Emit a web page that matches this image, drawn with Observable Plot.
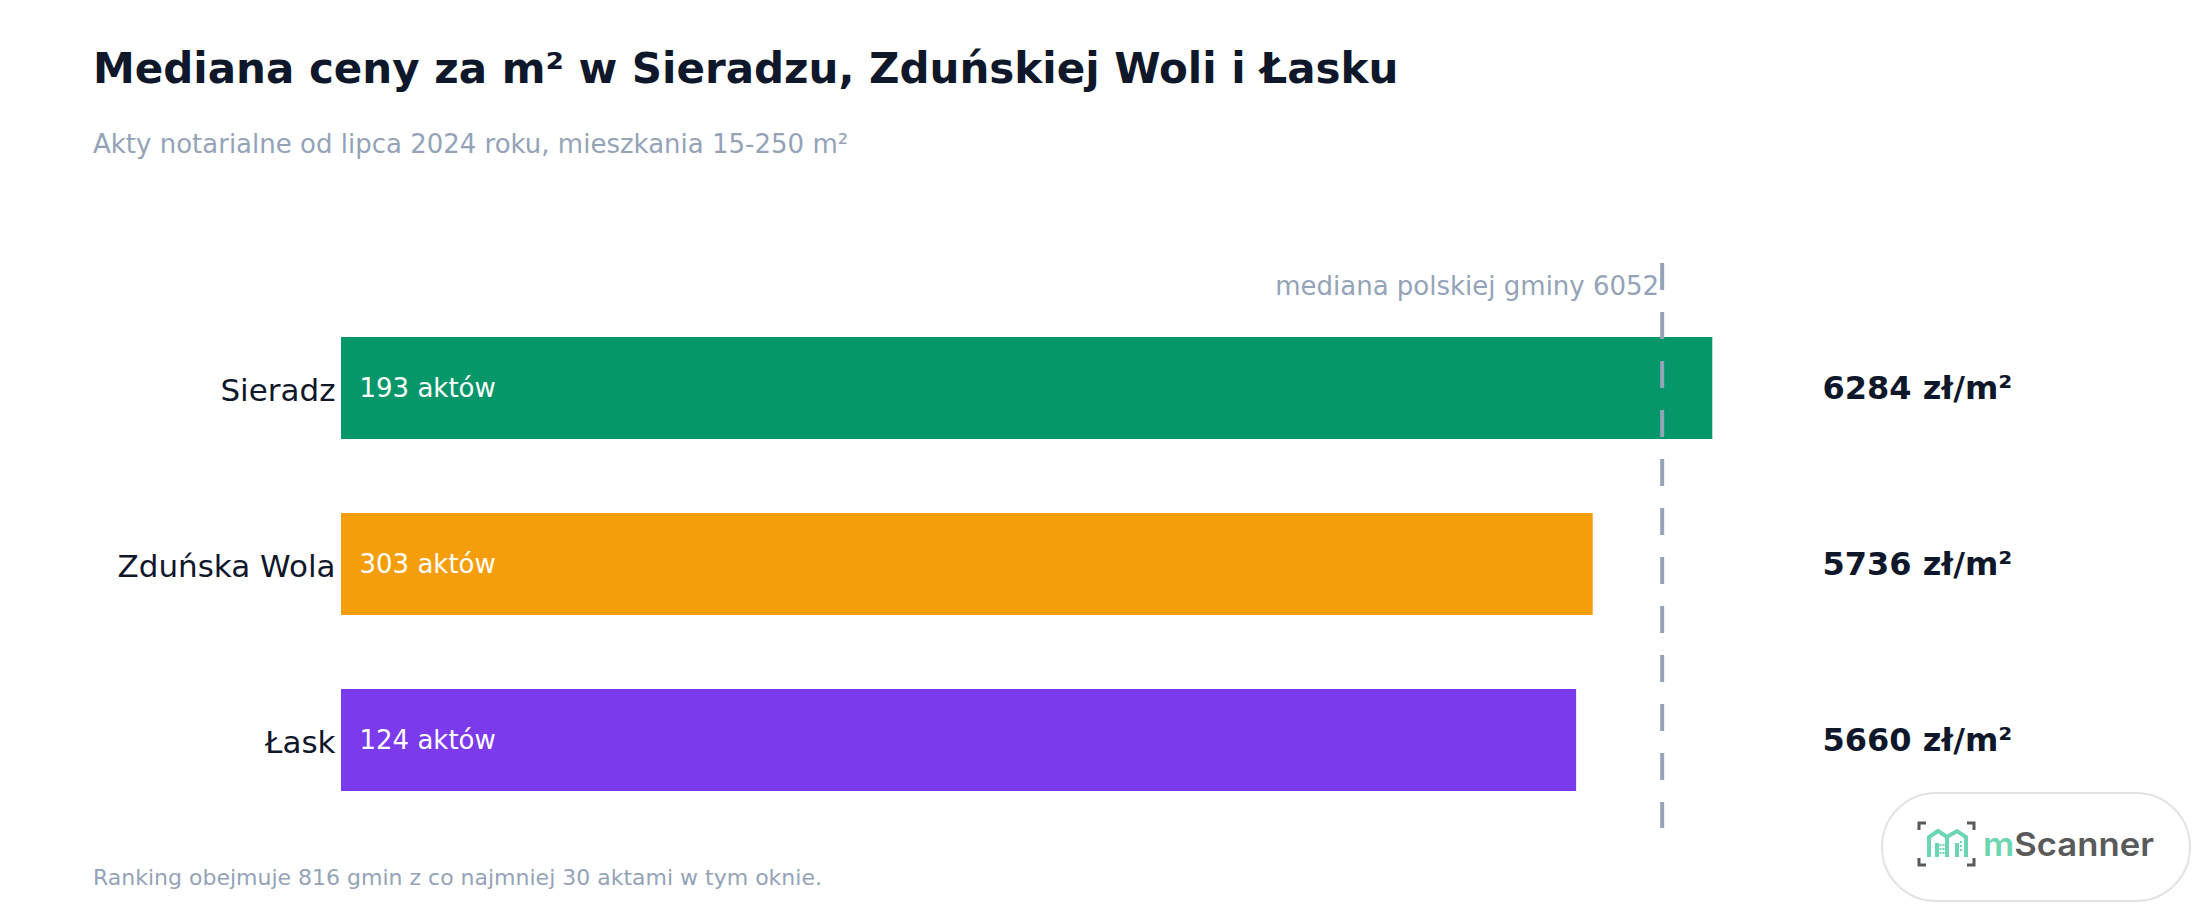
<!DOCTYPE html>
<html>
<head>
<meta charset="utf-8">
<script src="https://cdn.jsdelivr.net/npm/d3@7"></script>
<script src="https://cdn.jsdelivr.net/npm/@observablehq/plot@0.6"></script>
<style>
  html, body { margin: 0; padding: 0; background: #ffffff; }
  body { width: 2200px; height: 920px; position: relative; overflow: hidden; font-family: "DejaVu Sans", sans-serif; }
  .abs { position: absolute; line-height: 1; white-space: nowrap; }
  #title { left: 93px; top: 48px; font-size: 42px; font-weight: bold; color: #0f172a; }
  #subtitle { left: 93px; top: 131px; font-size: 26px; color: #94a3b8; }
  #footer { left: 93px; top: 867px; font-size: 22px; color: #94a3b8; }
  #chart { position: absolute; left: 0; top: 180px; }
  #logo { position: absolute; left: 1880px; top: 791px; }
</style>
</head>
<body>
<div id="title" class="abs">Mediana ceny za m² w Sieradzu, Zduńskiej Woli i Łasku</div>
<div id="subtitle" class="abs">Akty notarialne od lipca 2024 roku, mieszkania 15-250 m²</div>
<div id="chart"></div>
<div id="footer" class="abs">Ranking obejmuje 816 gmin z co najmniej 30 aktami w tym oknie.</div>
<svg id="logo" width="312" height="112" viewBox="0 0 312 112">
  <rect x="2" y="2" width="308" height="108" rx="54" ry="54" fill="#ffffff" stroke="#e2e2e2" stroke-width="2"/>
  <g fill="none" stroke="#5a5a5a" stroke-width="3">
    <path d="M39,39 V32 H46"/>
    <path d="M87,32 H94 V39"/>
    <path d="M39,67 V74 H46"/>
    <path d="M87,74 H94 V67"/>
  </g>
  <g fill="none" stroke="#6bd6b0" stroke-width="4" stroke-linejoin="miter">
    <path d="M49,66 V46 L58,40 L67,46 L77,40 L86,46 V66"/>
    <path d="M67,46 V66"/>
    <path d="M57,52 V66"/>
    <path d="M77,52 V66"/>
  </g>
  <g fill="#6bd6b0">
    <rect x="59.5" y="53" width="2" height="2"/><rect x="62.5" y="53" width="2" height="2"/>
    <rect x="59.5" y="57" width="2" height="2"/><rect x="62.5" y="57" width="2" height="2"/>
    <rect x="59.5" y="61" width="2" height="2"/><rect x="62.5" y="61" width="2" height="2"/>
    <rect x="80" y="50" width="2" height="2"/><rect x="80" y="54" width="2" height="2"/><rect x="80" y="58" width="2" height="2"/>
  </g>
  <text x="103" y="65" font-family="Inter, Liberation Sans, sans-serif" font-weight="600" font-size="33" textLength="171" lengthAdjust="spacingAndGlyphs"><tspan fill="#6bd6b0">m</tspan><tspan fill="#5a5a5a">Scanner</tspan></text>
</svg>
<script>
// ---- data ----
const gminy = ["Sieradz", "Zduńska Wola", "Łask"];
const ceny = [6284, 5736, 5660];
const akty = [193, 303, 124];
const kolory = ["#059669", "#f59e0b", "#7c3aed"];
const medianaPolska = 6052;
const etykietaMediany = "mediana polskiej gminy 6052";

const rows = gminy.map((g, i) => ({ gmina: g, cena: ceny[i], akty: akty[i], kolor: kolory[i] }));

const chart = Plot.plot({
  width: 2200,
  height: 680,
  marginLeft: 341,
  marginRight: 378,
  marginTop: 83,
  marginBottom: 32,
  style: { fontFamily: "DejaVu Sans, sans-serif", color: "#0f172a", background: "transparent" },
  x: { domain: [0, d3.max(ceny) * 1.08], axis: null },
  y: { domain: gminy, paddingInner: 0.4188, paddingOuter: 0.3134, align: 0.664, label: null },
  marks: [
    Plot.barX(rows, { x: "cena", y: "gmina", fill: "kolor" }),
    Plot.text(rows, { x: 0, y: "gmina", text: d => `${d.akty} aktów`, textAnchor: "start", dx: 18, fill: "#ffffff", fontSize: 26 }),
    Plot.text(rows, { y: "gmina", frameAnchor: "right", text: d => `${d.cena} zł/m²`, textAnchor: "start", fill: "#0f172a", fontSize: 32, fontWeight: "bold" }),
    Plot.ruleX([medianaPolska], { stroke: "#94a3b8", strokeWidth: 4, strokeDasharray: "27,22" }),
    Plot.text([medianaPolska], { x: d => d, frameAnchor: "top", text: () => etykietaMediany, textAnchor: "end", dy: 13, dx: -3, fill: "#94a3b8", fontSize: 26 }),
    Plot.axisY({ tickSize: 0, tickPadding: 6, dy: 3, fontSize: 31, fill: "#0f172a", label: null })
  ]
});
document.getElementById("chart").appendChild(chart);
</script>
</body>
</html>
